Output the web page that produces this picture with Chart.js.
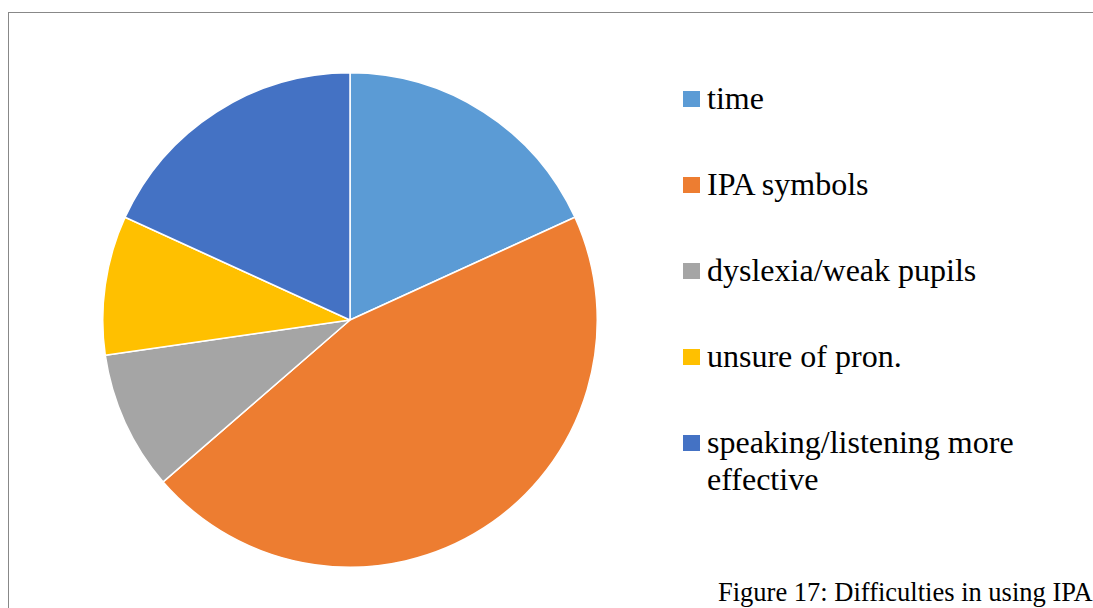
<!DOCTYPE html>
<html>
<head>
<meta charset="utf-8">
<script src="https://cdn.jsdelivr.net/npm/chart.js@4.4.1/dist/chart.umd.min.js"></script>
<style>
  html, body { margin: 0; padding: 0; background: #fff; overflow: hidden; }
  body { width: 1093px; height: 608px; position: relative; }
  #frame { position: absolute; left: 8px; top: 12px; width: 1200px; height: 700px; border-left: 1px solid #888; border-top: 1px solid #888; }
  #pie-wrap { position: absolute; left: 100px; top: 70px; width: 500px; height: 500px; }
  .lg-box { position: absolute; left: 683px; width: 17px; height: 16px; }
  .lg-text { position: absolute; left: 707px; font-family: "Liberation Serif", serif; font-size: 32px; line-height: 37px; color: #000; white-space: nowrap; }
  #caption { position: absolute; left: 718px; top: 577px; font-family: "Liberation Serif", serif; font-size: 26.5px; line-height: 30px; white-space: nowrap; color: #000; }
</style>
</head>
<body>
<div id="frame"></div>
<div id="pie-wrap"><canvas id="pie" width="500" height="500"></canvas></div>
<div id="legend"></div>
<div id="caption">Figure 17: Difficulties in using IPA</div>

<script>
// ---- data (number of responses) ----
const labels = ['time', 'IPA symbols', 'dyslexia/weak pupils', 'unsure of pron.', 'speaking/listening more effective'];
const legendLines = [['time'], ['IPA symbols'], ['dyslexia/weak pupils'], ['unsure of pron.'], ['speaking/listening more', 'effective']];
const counts = [2, 5, 1, 1, 2];
const colors = ['#5B9BD5', '#ED7D31', '#A5A5A5', '#FFC000', '#4472C4'];

// ---- legend ----
const legend = document.getElementById('legend');
legendLines.forEach((lines, i) => {
  const baseline = 110 + i * 86;
  const box = document.createElement('div');
  box.className = 'lg-box';
  box.style.top = (baseline - 19) + 'px';
  box.style.background = colors[i];
  legend.appendChild(box);
  const txt = document.createElement('div');
  txt.className = 'lg-text';
  txt.style.top = (baseline - 30) + 'px';
  txt.innerHTML = lines.join('<br>');
  legend.appendChild(txt);
});

// ---- pie ----
new Chart(document.getElementById('pie'), {
  type: 'pie',
  data: {
    labels: labels,
    datasets: [{
      data: counts,
      backgroundColor: colors,
      borderColor: '#ffffff',
      borderWidth: 1.5,
    }]
  },
  options: {
    responsive: false,
    animation: false,
    devicePixelRatio: 1,
    layout: { padding: 2 },
    plugins: {
      legend: { display: false },
      tooltip: { enabled: false }
    }
  }
});
</script>
</body>
</html>
